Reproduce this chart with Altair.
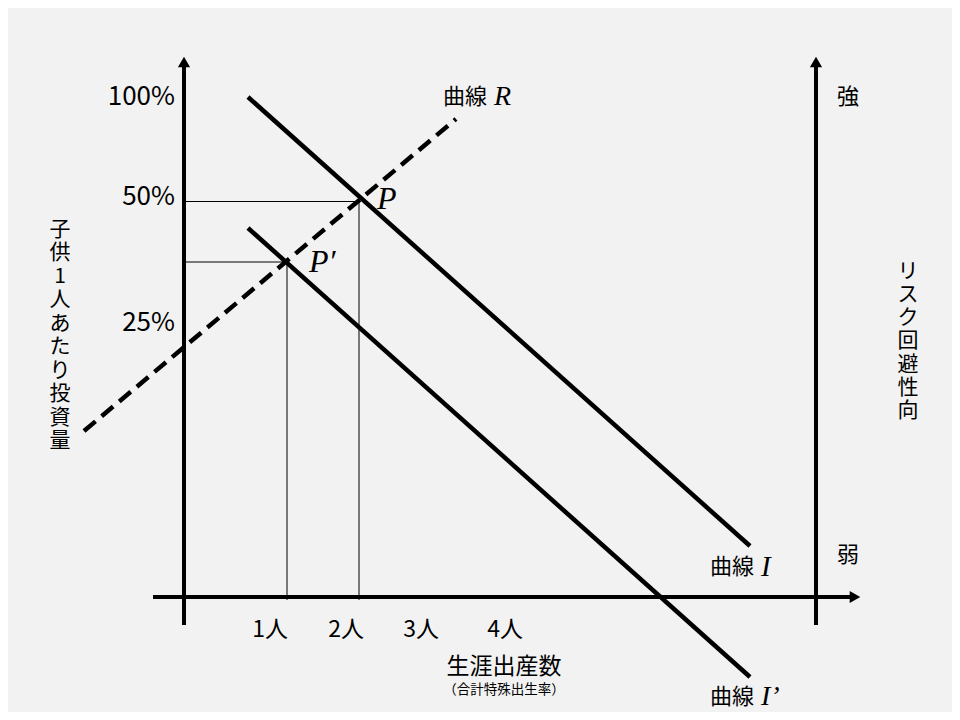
import altair as alt
import pandas as pd

# ---- diagram geometry (coordinates of the original figure's drawing space) ----
# axes (thick black)
axis_x1 = [184, 153, 816]
axis_y1 = [625, 597, 625]
axis_x2 = [184, 853, 816]
axis_y2 = [64, 597, 64]

# arrow heads
arrow_x = [184, 816, 855]
arrow_y = [62, 62, 597]
arrow_shape = ["triangle-up", "triangle-up", "triangle-right"]

# curves I and I' (solid, thick)
curve_names = ["曲線I", "曲線I'"]
curve_x1 = [248, 248]
curve_y1 = [97, 228]
curve_x2 = [750, 750]
curve_y2 = [546, 677]

# curve R (dashed)
r_x1, r_y1, r_x2, r_y2 = [84], [431], [456], [119]

# guide lines from P and P' (thin)
guide_x1 = [184, 359, 184, 287]
guide_y1 = [201.5, 201.5, 262, 262]
guide_x2 = [359, 359, 287, 287]
guide_y2 = [201.5, 600, 262, 600]

# y tick labels
ytick_labels = ["100%", "50%", "25%"]
ytick_y = [97, 197, 323]
ytick_x = [175, 175, 175]

# x tick labels
xtick_labels = ["1人", "2人", "3人", "4人"]
xtick_x = [270, 346, 421, 505]
xtick_y = [630, 630, 630, 630]

# curve name labels (Japanese part)
cname_text = ["曲線", "曲線", "曲線"]
cname_x = [443, 710, 710]
cname_y = [97, 567, 697]

# italic serif symbols
sym_text = ["R", "I", "I\u2019", "P", "P\u2032"]
sym_x = [494, 761, 761, 377, 309]
sym_y = [97, 567, 697, 199, 262]
sym_size = [28, 29, 28, 32, 32]

# right axis ends
strength_text = ["強", "弱"]
strength_x = [848, 848]
strength_y = [97, 555]

# vertical titles (one character per row)
left_chars = list("子供1人あたり投資量")
left_x = [60] * len(left_chars)
left_y = [229.5, 253, 276.5, 300, 323.5, 347, 370.5, 394, 417.5, 441]

right_chars = list("リスク回避性向")
right_x = [908] * len(right_chars)
right_y = [271.5, 294.8, 318.1, 341.4, 364.7, 388, 411.3]

# ---- build chart ----
xs = alt.Scale(domain=[8, 952], nice=False, zero=False)
ys = alt.Scale(domain=[8, 712], nice=False, zero=False, reverse=True)


def XY(xf="x", yf="y"):
    return dict(x=alt.X(f"{xf}:Q", scale=xs, axis=None),
                y=alt.Y(f"{yf}:Q", scale=ys, axis=None))


def seg_df(x1, y1, x2, y2):
    return pd.DataFrame({"x": x1, "y": y1, "x2": x2, "y2": y2})


def seg_layer(df, width, dash=None):
    kw = dict(color="black", strokeWidth=width, strokeCap="butt")
    if dash:
        kw["strokeDash"] = dash
    return alt.Chart(df).mark_rule(**kw).encode(
        **XY(), x2="x2:Q", y2="y2:Q")


axes = seg_layer(seg_df(axis_x1, axis_y1, axis_x2, axis_y2), 4)
curves = seg_layer(seg_df(curve_x1, curve_y1, curve_x2, curve_y2), 4.5)
rline = seg_layer(seg_df(r_x1, r_y1, r_x2, r_y2), 4.5, dash=[15, 8])
guides = seg_layer(seg_df(guide_x1, guide_y1, guide_x2, guide_y2), 1)

arrows = alt.Chart(pd.DataFrame({"x": arrow_x, "y": arrow_y, "s": arrow_shape})).mark_point(
    filled=True, color="black", opacity=1, size=150).encode(
    **XY(), shape=alt.Shape("s:N", scale=None, legend=None))

JP = "Noto Sans CJK JP"
SERIF = "Liberation Serif"


def text_layer(texts, xv, yv, size, align="center", font=JP, style="normal"):
    df = pd.DataFrame({"x": xv, "y": yv, "t": texts})
    return alt.Chart(df).mark_text(font=font, fontSize=size, align=align,
                                   baseline="middle", color="black",
                                   fontStyle=style).encode(**XY(), text="t:N")


yticks = text_layer(ytick_labels, ytick_x, ytick_y, 26, align="right")
xticks = text_layer(xtick_labels, xtick_x, xtick_y, 23)
xtitle = text_layer(["生涯出産数"], [504], [667], 23)
xsub = text_layer(["（合計特殊出生率）"], [504], [690], 13.5)
cnames = text_layer(cname_text, cname_x, cname_y, 22, align="left")
strength = text_layer(strength_text, strength_x, strength_y, 22)
ltitle = text_layer(left_chars, left_x, left_y, 21)
rtitle = text_layer(right_chars, right_x, right_y, 21)

sym_df = pd.DataFrame({"x": sym_x, "y": sym_y, "t": sym_text, "s": sym_size})
syms = alt.Chart(sym_df).mark_text(font=SERIF, fontStyle="italic", align="left",
                                   baseline="middle", color="black").encode(
    **XY(), text="t:N", size=alt.Size("s:Q", scale=None, legend=None))

chart = alt.layer(
    guides, axes, arrows, curves, rline,
    yticks, xticks, xtitle, xsub, cnames, syms, strength, ltitle, rtitle
).properties(
    width=944, height=704,
    autosize=alt.AutoSizeParams(type="none"),
    padding=0,
    background="#f2f2f2",
).configure_view(stroke=None)

chart.save("out.html", embed_options={"renderer": "svg", "actions": False})
